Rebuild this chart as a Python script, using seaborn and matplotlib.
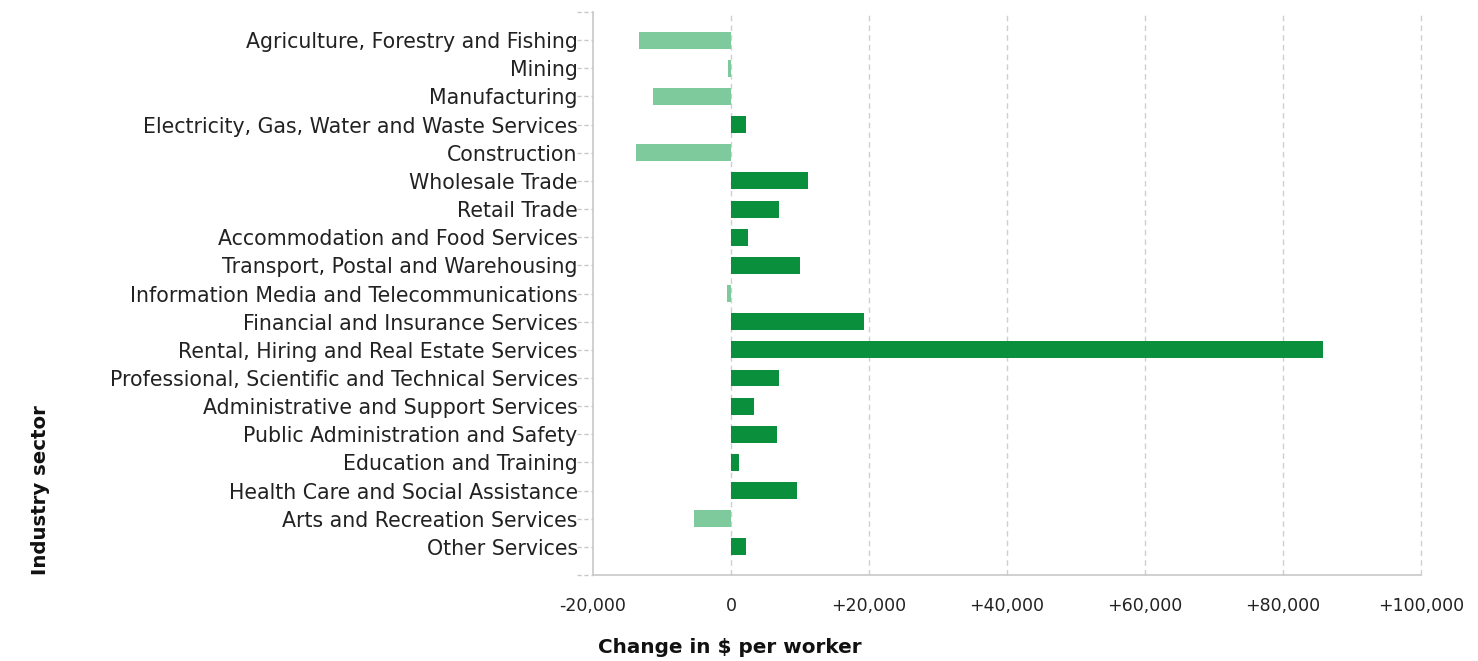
import matplotlib
matplotlib.use("Agg")
import matplotlib.pyplot as plt
import matplotlib.transforms as mtransforms
import seaborn as sns
import pandas as pd

sns.set_style("white")
plt.rcParams["font.family"] = ["DejaVu Sans"]

sectors = [
    "Agriculture, Forestry and Fishing",
    "Mining",
    "Manufacturing",
    "Electricity, Gas, Water and Waste Services",
    "Construction",
    "Wholesale Trade",
    "Retail Trade",
    "Accommodation and Food Services",
    "Transport, Postal and Warehousing",
    "Information Media and Telecommunications",
    "Financial and Insurance Services",
    "Rental, Hiring and Real Estate Services",
    "Professional, Scientific and Technical Services",
    "Administrative and Support Services",
    "Public Administration and Safety",
    "Education and Training",
    "Health Care and Social Assistance",
    "Arts and Recreation Services",
    "Other Services",
]
change = [
    -13400, -400, -11300, 2200, -13700, 11200, 6900, 2500, 10000, -600,
    19300, 85800, 6900, 3400, 6600, 1100, 9500, -5300, 2200,
]
x_ticks = [-20000, 0, 20000, 40000, 60000, 80000, 100000]
x_tick_labels = ["-20,000", "0", "+20,000", "+40,000", "+60,000", "+80,000", "+100,000"]

df = pd.DataFrame({"sector": sectors, "change": change})
df["sign"] = ["neg" if v < 0 else "pos" for v in df["change"]]
palette = {"pos": "#0a8f3c", "neg": "#7fca9c"}

fig = plt.figure(figsize=(14.78, 6.61), dpi=100)
ax = fig.add_axes([0.4012, 0.1301, 0.5602, 0.8517])

sns.barplot(
    data=df,
    x="change",
    y="sector",
    hue="sign",
    palette=palette,
    saturation=1,
    dodge=False,
    legend=False,
    width=0.6,
    linewidth=0,
    orient="h",
    ax=ax,
    zorder=3,
)

ax.set_xlim(-20000, 100000)
ax.set_ylim(len(sectors), -1)

ax.set_xticks(x_ticks)
ax.set_xticklabels(x_tick_labels, fontsize=12.5, color="#222222")
ax.set_yticks(range(len(sectors)))
ax.set_yticklabels(sectors, fontsize=14.8, color="#222222")

# vertical dashed gridlines
for xv in x_ticks[1:]:
    ax.axvline(xv, color="#cfcfcf", linestyle=(0, (4, 3)), linewidth=1,
               zorder=1, clip_on=False)

# dashed little y ticks like the original
ax.tick_params(axis="y", length=0, pad=11)
trans = mtransforms.blended_transform_factory(ax.transAxes, ax.transData)
for yv in range(-1, len(sectors) + 1):
    ax.plot([-0.019, 0], [yv, yv], transform=trans, color="#c8c8c8",
            linestyle=(0, (3, 2)), linewidth=1, clip_on=False, zorder=1)

ax.tick_params(axis="x", length=7, width=1, color="#c8c8c8", pad=9)

for side in ["top", "right"]:
    ax.spines[side].set_visible(False)
for side in ["left", "bottom"]:
    ax.spines[side].set_color("#c8c8c8")
    ax.spines[side].set_linewidth(1.2)

ax.set_xlabel("Change in $ per worker", fontsize=14.4, fontweight="bold", color="#111111")
ax.xaxis.set_label_coords(0.165, -0.112)
ax.set_ylabel("Industry sector", fontsize=14.2, fontweight="bold", color="#111111")
ax.yaxis.set_label_coords(-0.656, 0.151)

fig.savefig("out.png", dpi=100)
